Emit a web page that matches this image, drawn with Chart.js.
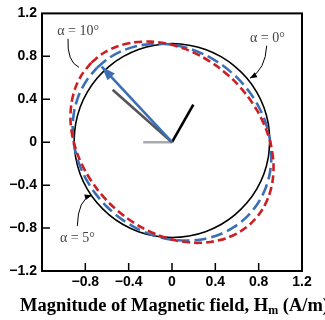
<!DOCTYPE html>
<html>
<head>
<meta charset="utf-8">
<script src="https://cdn.jsdelivr.net/npm/chart.js@4.4.0/dist/chart.umd.min.js"></script>
<style>
  html, body { margin: 0; padding: 0; background: #fff; }
</style>
</head>
<body>
<canvas id="hmChart" width="325" height="320"></canvas>
<script>
// --- Data ---

// axis tick labels
const xTickLabels = ['', '\u22120.8', '\u22120.4', '0', '0.4', '0.8', '1.2'];
const yTickLabels = ['\u22121.2', '\u22120.8', '\u22120.4', '0', '0.4', '0.8', '1.2'];

// alpha = 0 deg (solid black)
const alpha0X = [0.903, 0.889, 0.849, 0.782, 0.692, 0.580, 0.452, 0.309, 0.157, 0,
  -0.157, -0.309, -0.452, -0.580, -0.692, -0.782, -0.849, -0.889, -0.903,
  -0.889, -0.849, -0.782, -0.692, -0.580, -0.452, -0.309, -0.157, 0,
  0.157, 0.309, 0.452, 0.580, 0.692, 0.782, 0.849, 0.889];
const alpha0Y = [0.015, 0.172, 0.324, 0.467, 0.595, 0.707, 0.797, 0.864, 0.904, 0.918,
  0.904, 0.864, 0.797, 0.707, 0.595, 0.467, 0.324, 0.172, 0.015,
  -0.142, -0.294, -0.437, -0.565, -0.677, -0.767, -0.834, -0.874, -0.888,
  -0.874, -0.834, -0.767, -0.677, -0.565, -0.437, -0.294, -0.142];

// alpha = 5 deg (blue dashed)
const alpha5X = [-0.693, -0.578, -0.446, -0.300, -0.145, 0.015, 0.174, 0.328, 0.472, 0.601,
  0.712, 0.802, 0.867, 0.906, 0.917, 0.901, 0.857, 0.787, 0.693,
  0.578, 0.446, 0.300, 0.145, -0.015, -0.174, -0.328, -0.472, -0.601,
  -0.712, -0.802, -0.867, -0.906, -0.917, -0.901, -0.857, -0.787];
const alpha5Y = [0.693, 0.787, 0.857, 0.901, 0.917, 0.906, 0.867, 0.802, 0.712, 0.601,
  0.472, 0.328, 0.174, 0.015, -0.145, -0.300, -0.446, -0.578, -0.693,
  -0.787, -0.857, -0.901, -0.917, -0.906, -0.867, -0.802, -0.712, -0.601,
  -0.472, -0.328, -0.174, -0.015, 0.145, 0.300, 0.446, 0.578];

// alpha = 10 deg (red dashed)
const alpha10X = [-0.743, -0.632, -0.502, -0.357, -0.201, -0.039, 0.125, 0.284, 0.435, 0.573,
  0.693, 0.792, 0.867, 0.916, 0.937, 0.929, 0.894, 0.831, 0.743,
  0.632, 0.502, 0.357, 0.201, 0.039, -0.125, -0.284, -0.435, -0.573,
  -0.693, -0.792, -0.867, -0.916, -0.937, -0.929, -0.894, -0.831];
const alpha10Y = [0.743, 0.831, 0.894, 0.929, 0.937, 0.916, 0.867, 0.792, 0.693, 0.573,
  0.435, 0.284, 0.125, -0.039, -0.201, -0.357, -0.502, -0.632, -0.743,
  -0.831, -0.894, -0.929, -0.937, -0.916, -0.867, -0.792, -0.693, -0.573,
  -0.435, -0.284, -0.125, 0.039, 0.201, 0.357, 0.502, 0.632];

// field vectors from the origin
const blueVecX = [0, -0.649];
const blueVecY = [0, 0.704];
const grayVecX = [0, -0.548];
const grayVecY = [0, 0.489];
const blackVecX = [0, 0.197];
const blackVecY = [0, 0.351];
const lightVecX = [-0.265, 0];
const lightVecY = [0, 0];

// annotation labels
const noteLabels = ['\u03b1 = 10\u00b0', '\u03b1 = 0\u00b0', '\u03b1 = 5\u00b0'];
const noteAnchors = [[-1.06, 1.0], [0.72, 0.936], [-1.034, -0.927]];

const titleParts = ['Magnitude of Magnetic field, H', 'm', ' (A/m)'];

// --- helpers ---

function toPoints(xs, ys, closed) {
    const pts = xs.map((x, i) => ({ x: x, y: ys[i] }));
    if (closed) pts.push({ x: xs[0], y: ys[0] });
    return pts;
}

function lineSet(xs, ys, color, width, order, extra) {
    return Object.assign({
        data: toPoints(xs, ys, false),
        showLine: true,
        borderColor: color,
        backgroundColor: color,
        borderWidth: width,
        pointRadius: 0,
        fill: false,
        order: order
    }, extra || {});
}

function arrowHead(ctx, fromX, fromY, tipX, tipY, len, half) {
    const ang = Math.atan2(tipY - fromY, tipX - fromX);
    ctx.beginPath();
    ctx.moveTo(tipX, tipY);
    ctx.lineTo(tipX - len * Math.cos(ang) + half * Math.sin(ang), tipY - len * Math.sin(ang) - half * Math.cos(ang));
    ctx.lineTo(tipX - len * Math.cos(ang) - half * Math.sin(ang), tipY - len * Math.sin(ang) + half * Math.cos(ang));
    ctx.closePath();
    ctx.fill();
}

// frame, inward ticks, axis title, alpha labels
const decorPlugin = {
    id: 'decor',
    afterDatasetsDraw(chart) {
        const ctx = chart.ctx;
        const meta = chart.getDatasetMeta(3);
        const p0 = meta.data[0], p1 = meta.data[1];
        ctx.save();
        ctx.fillStyle = '#3a6fb6';
        arrowHead(ctx, p0.x, p0.y, p1.x, p1.y, 14, 5);
        ctx.restore();
    },
    afterDraw(chart) {
        const ctx = chart.ctx;
        const a = chart.chartArea;
        const sx = chart.scales.x, sy = chart.scales.y;
        ctx.save();

        ctx.strokeStyle = '#000';
        ctx.lineWidth = 2;
        ctx.strokeRect(a.left, a.top, a.right - a.left, a.bottom - a.top);

        ctx.lineWidth = 1.5;
        ctx.beginPath();
        sx.ticks.forEach(t => {
            const px = sx.getPixelForValue(t.value);
            if (px > a.left + 2 && px < a.right - 2) {
                ctx.moveTo(px, a.bottom);
                ctx.lineTo(px, a.bottom - 8);
            }
        });
        sy.ticks.forEach(t => {
            const py = sy.getPixelForValue(t.value);
            if (py > a.top + 2 && py < a.bottom - 2) {
                ctx.moveTo(a.left, py);
                ctx.lineTo(a.left + 8, py);
            }
        });
        ctx.stroke();

        // x axis title with subscript
        ctx.fillStyle = '#000';
        ctx.textBaseline = 'alphabetic';
        ctx.textAlign = 'left';
        let tx = 20;
        const ty = 311;
        ctx.font = 'bold 18.5px "Liberation Serif"';
        ctx.fillText(titleParts[0], tx, ty);
        tx += ctx.measureText(titleParts[0]).width;
        ctx.font = 'bold 12px "Liberation Serif"';
        ctx.fillText(titleParts[1], tx, ty + 3);
        tx += ctx.measureText(titleParts[1]).width;
        ctx.font = 'bold 18.5px "Liberation Serif"';
        ctx.fillText(titleParts[2], tx, ty);

        // alpha labels
        ctx.font = '14px "Liberation Serif"';
        ctx.fillStyle = '#444';
        noteLabels.forEach((txt, i) => {
            ctx.fillText(txt, sx.getPixelForValue(noteAnchors[i][0]), sy.getPixelForValue(noteAnchors[i][1]));
        });

        // leader curves
        const P = (x, y) => [sx.getPixelForValue(x), sy.getPixelForValue(y)];
        const leaders = [
            [P(-0.96, 0.963), P(-0.97, 0.752), P(-0.859, 0.697), false],
            [P(0.874, 0.899), P(0.864, 0.679), P(0.72, 0.596), true],
            [P(-0.874, -0.78), P(-0.868, -0.532), P(-0.741, -0.495), true]
        ];
        ctx.strokeStyle = '#000';
        ctx.fillStyle = '#000';
        ctx.lineWidth = 1;
        leaders.forEach(l => {
            ctx.beginPath();
            ctx.moveTo(l[0][0], l[0][1]);
            ctx.quadraticCurveTo(l[1][0], l[1][1], l[2][0], l[2][1]);
            ctx.stroke();
            if (l[3]) arrowHead(ctx, l[1][0], l[1][1], l[2][0], l[2][1], 7, 2.8);
        });

        ctx.restore();
    }
};

const tickFont = { family: '"Liberation Sans", Arial, sans-serif', size: 14, weight: 'bold' };

new Chart(document.getElementById('hmChart'), {
    type: 'scatter',
    data: {
        datasets: [
            lineSet(alpha0X, alpha0Y, '#000', 1.6, 3, { data: toPoints(alpha0X, alpha0Y, true), tension: 0.3 }),
            lineSet(alpha5X, alpha5Y, '#3a6fb6', 2.6, 2, { data: toPoints(alpha5X, alpha5Y, true), tension: 0.3, borderDash: [12, 5] }),
            lineSet(alpha10X, alpha10Y, '#cc1f24', 2.6, 1, { data: toPoints(alpha10X, alpha10Y, true), tension: 0.3, borderDash: [8, 4] }),
            lineSet(blueVecX, blueVecY, '#3a6fb6', 2.6, 0),
            lineSet(grayVecX, grayVecY, '#555', 2.6, 4),
            lineSet(blackVecX, blackVecY, '#000', 2.6, 4),
            lineSet(lightVecX, lightVecY, '#aaa', 2.6, 4)
        ]
    },
    options: {
        responsive: false,
        animation: false,
        events: [],
        layout: { padding: { top: 9, right: 23, left: 0, bottom: 0 } },
        plugins: {
            legend: { display: false },
            tooltip: { enabled: false }
        },
        scales: {
            x: {
                type: 'linear',
                min: -1.2,
                max: 1.2,
                ticks: {
                    stepSize: 0.4,
                    autoSkip: false,
                    maxRotation: 0,
                    padding: 3,
                    color: '#000',
                    font: tickFont,
                    callback: (v, i) => xTickLabels[i]
                },
                grid: { display: false, drawTicks: false },
                border: { display: false },
                afterFit: s => { s.height = 49; }
            },
            y: {
                type: 'linear',
                min: -1.2,
                max: 1.2,
                ticks: {
                    stepSize: 0.4,
                    autoSkip: false,
                    padding: 5,
                    color: '#000',
                    font: tickFont,
                    callback: (v, i) => yTickLabels[i]
                },
                grid: { display: false, drawTicks: false },
                border: { display: false },
                afterFit: s => { s.width = 42; }
            }
        }
    },
    plugins: [decorPlugin]
});
</script>
</body>
</html>
